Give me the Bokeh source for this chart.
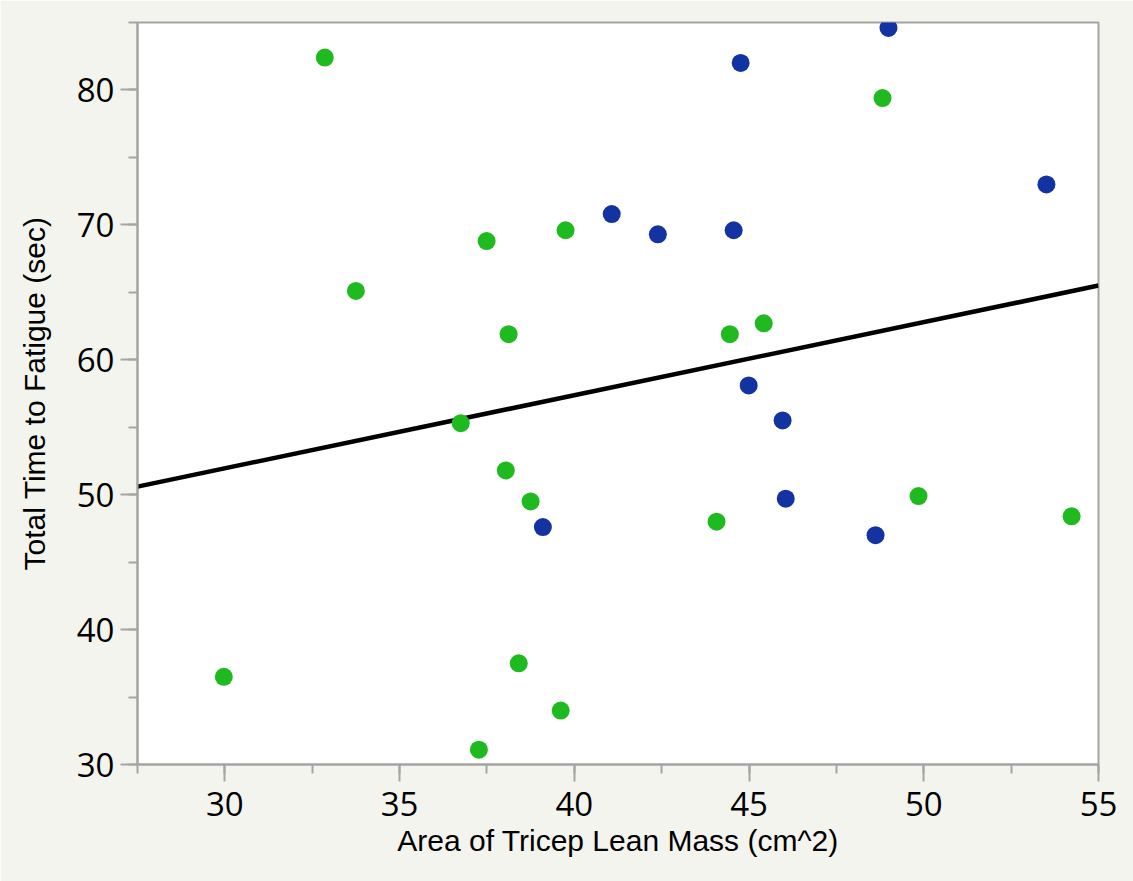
from bokeh.plotting import figure
from bokeh.models import Range1d, SingleIntervalTicker
from bokeh.embed import file_html
from bokeh.resources import INLINE

# Group 1 (green)
green_x = [32.86, 48.82, 37.49, 39.75, 33.75, 38.12, 44.45, 45.42, 36.75, 38.04,
           38.75, 44.07, 49.85, 54.23, 29.97, 38.41, 39.61, 37.27]
green_y = [82.4, 79.4, 68.8, 69.6, 65.1, 61.9, 61.9, 62.7, 55.3, 51.8,
           49.5, 48.0, 49.9, 48.4, 36.5, 37.5, 34.0, 31.1]
# Group 2 (blue)
blue_x = [48.99, 44.76, 53.51, 41.07, 42.39, 44.56, 44.99, 45.96, 46.05, 48.62, 39.10]
blue_y = [84.6, 82.0, 73.0, 70.8, 69.3, 69.6, 58.1, 55.5, 49.7, 47.0, 47.6]

# Fitted line
fit_x = [27.5, 55.0]
fit_y = [50.6, 65.5]

x_label = "Area of Tricep Lean Mass (cm^2)"
y_label = "Total Time to Fatigue (sec)"

BG = "#f4f4ef"
GRAY = "#a4a4a4"

p = figure(width=1133, height=881, output_backend="svg", toolbar_location=None,
           x_range=Range1d(27.5, 55), y_range=Range1d(30, 85),
           min_border_left=137, min_border_right=35, min_border_top=22, min_border_bottom=117,
           background_fill_color="white", border_fill_color=BG)
p.grid.visible = False
p.outline_line_color = GRAY
p.outline_line_width = 2

p.line(fit_x, fit_y, line_color="black", line_width=4.5)
p.scatter(green_x, green_y, size=18, fill_color="#1fba1f", line_color=None)
p.scatter(blue_x, blue_y, size=18, fill_color="#1333a3", line_color=None)

p.xaxis.ticker = SingleIntervalTicker(interval=5, num_minor_ticks=2)
p.yaxis.ticker = SingleIntervalTicker(interval=10, num_minor_ticks=2)

for ax in (p.xaxis[0], p.yaxis[0]):
    ax.axis_line_color = GRAY
    ax.axis_line_width = 2
    ax.major_tick_line_color = GRAY
    ax.major_tick_line_width = 2
    ax.minor_tick_line_color = GRAY
    ax.minor_tick_line_width = 2
    ax.major_tick_out = 17
    ax.major_tick_in = 0
    ax.minor_tick_out = 9
    ax.minor_tick_in = 0
    ax.major_label_text_font = "Open Sans"
    ax.major_label_text_font_size = "33px"
    ax.major_label_text_color = "black"
    ax.axis_label_text_font = "Liberation Sans"
    ax.axis_label_text_font_size = "30px"
    ax.axis_label_text_font_style = "normal"
    ax.axis_label_text_color = "black"

p.xaxis.axis_label = x_label
p.yaxis.axis_label = y_label
p.xaxis.major_label_standoff = 10
p.yaxis.major_label_standoff = 6
p.xaxis.axis_label_standoff = 5
p.yaxis.axis_label_standoff = 23

html = file_html(p, INLINE)
html = html.replace("<body>", '<body style="background:%s;margin:0">' % BG, 1)
open("out.html", "w").write(html)
